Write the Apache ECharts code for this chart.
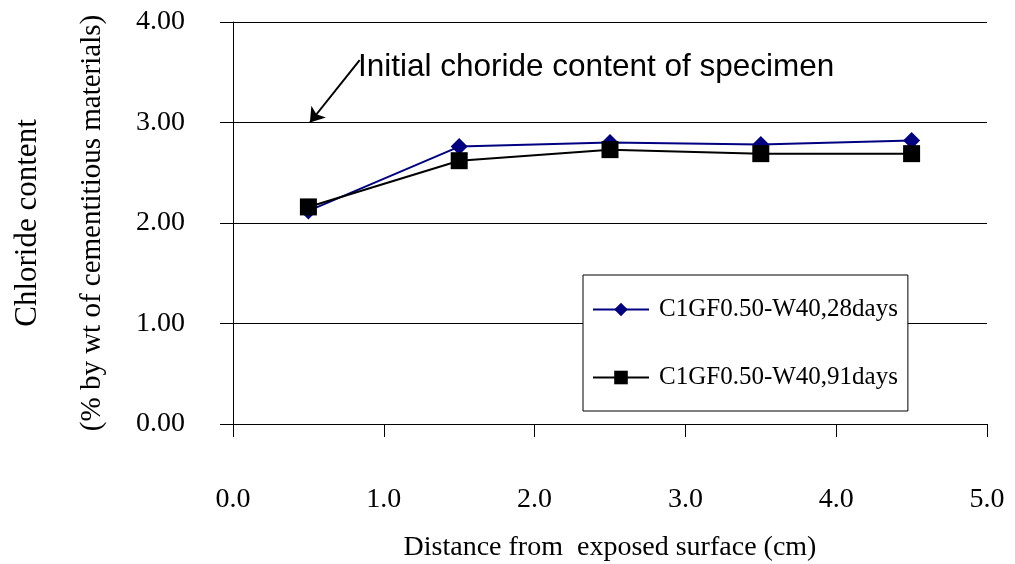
<!DOCTYPE html>
<html>
<head>
<meta charset="utf-8">
<script src="https://cdn.jsdelivr.net/npm/echarts@6/dist/echarts.min.js"></script>
<style>html,body{margin:0;padding:0;background:#fff}#c{width:1015px;height:564px}</style>
</head>
<body>
<div id="c"></div>
<script>
var distances = [0.5, 1.5, 2.5, 3.5, 4.5];
var days28 = [2.12, 2.76, 2.80, 2.78, 2.82];
var days91 = [2.16, 2.62, 2.73, 2.69, 2.69];
var seriesNames = ['C1GF0.50-W40,28days', 'C1GF0.50-W40,91days'];
var annotationText = 'Initial choride content of specimen';
var arrowFrom = [0.84, 3.62];
var arrowTo = [0.51, 3.0];

function pairs(xs, ys) { return xs.map(function (x, i) { return [x, ys[i]]; }); }

var chart = echarts.init(document.getElementById('c'));
var serif = 'Liberation Serif';
chart.setOption({
  animation: false,
  backgroundColor: '#fff',
  grid: { left: 233, right: 28, top: 22, bottom: 140, containLabel: false, outerBoundsMode: 'none' },
  xAxis: {
    type: 'value', min: 0, max: 5, interval: 1,
    name: 'Distance from  exposed surface (cm)',
    nameLocation: 'middle', nameGap: 110,
    nameTextStyle: { fontFamily: serif, fontSize: 28, color: '#000' },
    axisLine: { show: true, lineStyle: { color: '#000', width: 1 } },
    axisTick: { show: true, length: 13, inside: false, lineStyle: { color: '#000' } },
    axisLabel: { margin: 62, fontFamily: serif, fontSize: 28, color: '#000', formatter: function (v) { return v.toFixed(1); } },
    splitLine: { show: false }
  },
  yAxis: {
    type: 'value', min: 0, max: 4, interval: 1,
    name: '{a|Chloride content}\n{b|(% by wt of cementitious materials)}',
    nameLocation: 'middle', nameRotate: 90, nameGap: 109,
    nameTextStyle: {
      color: '#000',
      rich: {
        a: { fontFamily: serif, fontSize: 31, color: '#000', lineHeight: 64 },
        b: { fontFamily: serif, fontSize: 29, color: '#000', lineHeight: 64 }
      }
    },
    axisLine: { show: true, lineStyle: { color: '#000', width: 1 } },
    axisTick: { show: true, length: 13, inside: false, lineStyle: { color: '#000' } },
    axisLabel: { margin: 48, fontFamily: serif, fontSize: 28, color: '#000', formatter: function (v) { return v.toFixed(2); } },
    splitLine: { show: true, lineStyle: { color: '#000', width: 1 } }
  },
  legend: {
    left: 583, top: 275,
    orient: 'vertical',
    backgroundColor: '#fff', borderColor: '#000', borderWidth: 1,
    padding: [22, 10, 21, 9],
    itemGap: 43, itemWidth: 56, itemHeight: 17,
    textStyle: { fontFamily: serif, fontSize: 25, color: '#000', padding: [0, 0, 0, 5] },
    data: seriesNames
  },
  graphic: [{
    type: 'text', x: 358, y: 67,
    style: { text: annotationText, fontFamily: 'Liberation Sans', fontSize: 31.5, fill: '#000', verticalAlign: 'middle' }
  }],
  series: [{
    name: seriesNames[0], type: 'line', data: pairs(distances, days28),
    symbol: 'diamond', symbolSize: 17,
    lineStyle: { color: '#000080', width: 2 },
    itemStyle: { color: '#000080' },
    markLine: {
      silent: true, symbol: ['none', 'arrow'], symbolSize: 14,
      label: { show: false },
      lineStyle: { color: '#000', width: 2, type: 'solid' },
      data: [[{ coord: arrowFrom }, { coord: arrowTo }]]
    }
  }, {
    name: seriesNames[1], type: 'line', data: pairs(distances, days91),
    symbol: 'rect', symbolSize: 17,
    lineStyle: { color: '#000', width: 2 },
    itemStyle: { color: '#000' }
  }]
});
</script>
</body>
</html>
